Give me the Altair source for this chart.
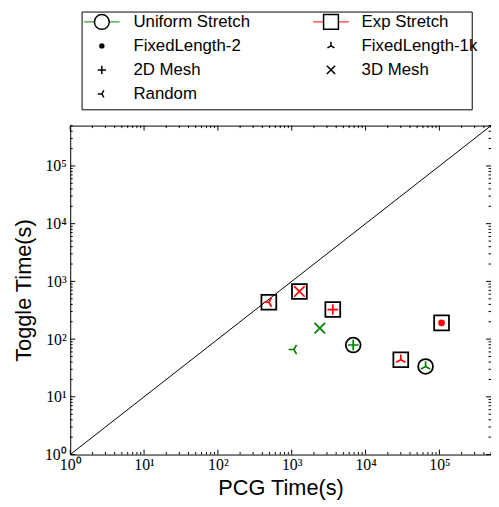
import altair as alt
import pandas as pd

# ---------------- data ----------------
exp_graph = ["Random", "3D Mesh", "2D Mesh", "FixedLength-2", "FixedLength-1k"]
exp_pcg = [490, 1270, 3600, 107000, 30000]
exp_toggle = [435, 670, 325, 191, 44]
exp_boxed = [True, True, True, True, True]

uni_graph = ["Random", "3D Mesh", "2D Mesh", "FixedLength-1k"]
uni_pcg = [1070, 2400, 6800, 65000]
uni_toggle = [66, 155, 79, 33.6]
uni_circled = [False, False, True, True]

series_names = ["Uniform Stretch", "Exp Stretch"]
series_colors = ["#008000", "#ff0000"]
legend_labels = ["Uniform Stretch", "FixedLength-2", "2D Mesh", "Random",
                 "Exp Stretch", "FixedLength-1k", "3D Mesh"]

x_major = [1, 10, 100, 1000, 10000, 100000]
y_major = [1, 10, 100, 1000, 10000, 100000]
axis_max = 500000

# ---------------- styling ----------------
W, H = 426, 333
PATHS = {
    "2D Mesh": "M-1,0H1M0,-1V1",
    "3D Mesh": "M-1,-1L1,1M-1,1L1,-1",
    "FixedLength-1k": "M0,0V-1M0,0L-0.866,0.5M0,0L0.866,0.5",
    "Random": "M0,0H-1M0,0L0.5,-0.866M0,0L0.5,0.866",
}
line_graphs = list(PATHS.keys())

pts = pd.concat([
    pd.DataFrame({"pcg": exp_pcg, "toggle": exp_toggle, "graph": exp_graph,
                  "series": "Exp Stretch", "outlined": exp_boxed}),
    pd.DataFrame({"pcg": uni_pcg, "toggle": uni_toggle, "graph": uni_graph,
                  "series": "Uniform Stretch", "outlined": uni_circled}),
], ignore_index=True)
pts["outline"] = pts["series"].map({"Uniform Stretch": "circle", "Exp Stretch": "square"})

XS = alt.Scale(type="log", domain=[1, axis_max], nice=False)
YS = alt.Scale(type="log", domain=[1, axis_max], nice=False)
sup = "['\u2070','\u00b9','\u00b2','\u00b3','\u2074','\u2075','\u2076']"
LBL = "'10' + " + sup + "[round(log(datum.value)/LN10)]"
XA = alt.Axis(values=x_major, labelExpr=LBL, title="PCG Time(s)", labelPadding=2,
              titlePadding=5)
YA = alt.Axis(values=y_major, labelExpr=LBL, title="Toggle Time(s)", labelPadding=4,
              labelAlign="right", labelBaseline="middle", titlePadding=9)
COL = alt.Scale(domain=series_names, range=series_colors)


def X(f):
    return alt.X(f, scale=XS, axis=XA)


def Y(f):
    return alt.Y(f, scale=YS, axis=YA)


diag = alt.Chart(pd.DataFrame({"a": [1, axis_max]})).mark_line(
    color="black", strokeWidth=1).encode(x=X("a:Q"), y=Y("a:Q"))

inner = alt.Chart(pts[pts["graph"].isin(line_graphs)]).mark_point(
    filled=False, strokeWidth=1.7, size=115, opacity=1).encode(
    x=X("pcg:Q"), y=Y("toggle:Q"),
    shape=alt.Shape("graph:N", scale=alt.Scale(domain=line_graphs,
                    range=[PATHS[g] for g in line_graphs]), legend=None),
    color=alt.Color("series:N", scale=COL, legend=None))

dots = alt.Chart(pts[pts["graph"] == "FixedLength-2"]).mark_circle(
    size=45, opacity=1).encode(
    x=X("pcg:Q"), y=Y("toggle:Q"),
    color=alt.Color("series:N", scale=COL, legend=None))

outl = alt.Chart(pts[pts["outlined"]]).mark_point(
    filled=False, stroke="black", strokeWidth=1.8, size=225, opacity=1).encode(
    x=X("pcg:Q"), y=Y("toggle:Q"),
    shape=alt.Shape("outline:N", scale=None))

# inward ticks on all four sides
minor = [m * 10 ** k for k in range(0, 6) for m in range(2, 10) if m * 10 ** k <= axis_max]


def xticks(vals, ln, top):
    if top:
        yy = dict(y=alt.value(0), y2=alt.value(ln))
    else:
        yy = dict(y=alt.value(H), y2=alt.value(H - ln))
    return alt.Chart(pd.DataFrame({"v": vals})).mark_rule(
        color="black", strokeWidth=1).encode(x=X("v:Q"), **yy)


def yticks(vals, ln, right):
    if right:
        xx = dict(x=alt.value(W), x2=alt.value(W - ln))
    else:
        xx = dict(x=alt.value(0), x2=alt.value(ln))
    return alt.Chart(pd.DataFrame({"v": vals})).mark_rule(
        color="black", strokeWidth=1).encode(y=Y("v:Q"), **xx)


ticks = [xticks(x_major, 5, False), xticks(minor, 2.5, False),
         xticks(x_major, 5, True), xticks(minor, 2.5, True),
         yticks(y_major, 5, False), yticks(minor, 2.5, False),
         yticks(y_major, 5, True), yticks(minor, 2.5, True)]

# ---------------- legend (drawn above the plot area) ----------------
leg = pd.DataFrame({"label": legend_labels})
leg["col"] = [i // 4 for i in range(len(leg))]
leg["row"] = [i % 4 for i in range(len(leg))]
leg["sx"] = 32 + leg["col"] * 232
leg["tx"] = 64 + leg["col"] * 231
leg["ly"] = -105 + leg["row"] * 24.3
leg["x1"] = leg["sx"] - 18
leg["x2"] = leg["sx"] + 18
leg["series"] = leg["label"]
leg["outline"] = leg["label"].map({"Uniform Stretch": "circle", "Exp Stretch": "square"})
leg["path"] = leg["label"].map(PATHS)

LX = lambda f: alt.X(f, scale=None, axis=None)
LY = lambda f: alt.Y(f, scale=None, axis=None)

box = alt.Chart(pd.DataFrame({"k": [0]})).mark_rect(
    fill="white", stroke="black", strokeWidth=1).encode(
    x=alt.value(12), x2=alt.value(407), y=alt.value(-115), y2=alt.value(-16))

ser = leg[leg["outline"].notna()]
leg_lines = alt.Chart(ser).mark_rule(strokeWidth=1).encode(
    x=LX("x1:Q"), x2="x2:Q", y=LY("ly:Q"),
    color=alt.Color("series:N", scale=COL, legend=None))
leg_outl = alt.Chart(ser).mark_point(
    filled=True, fill="white", stroke="black", strokeWidth=1.5, size=225, opacity=1).encode(
    x=LX("sx:Q"), y=LY("ly:Q"), shape=alt.Shape("outline:N", scale=None))
leg_inner = alt.Chart(leg[leg["path"].notna()]).mark_point(
    filled=False, stroke="black", strokeWidth=1.5, size=70, opacity=1).encode(
    x=LX("sx:Q"), y=LY("ly:Q"), shape=alt.Shape("path:N", scale=None))
leg_dot = alt.Chart(leg[leg["label"] == "FixedLength-2"]).mark_circle(
    color="black", size=30, opacity=1).encode(x=LX("sx:Q"), y=LY("ly:Q"))
leg_text = alt.Chart(leg).mark_text(
    align="left", baseline="middle", font="Liberation Sans", fontSize=17,
    color="black").encode(x=LX("tx:Q"), y=LY("ly:Q"), text="label:N")

chart = alt.layer(
    diag, *ticks, outl, inner, dots,
    box, leg_lines, leg_outl, leg_inner, leg_dot, leg_text,
).properties(
    width=W, height=H,
    autosize=alt.AutoSizeParams(type="none"),
    padding={"left": 63, "top": 116, "right": 0, "bottom": 48},
).configure_view(
    stroke="black", strokeWidth=1
).configure_axis(
    grid=False, domain=False, ticks=False, labelColor="black", titleColor="black",
    labelFont="Liberation Serif", labelFontSize=16, titleFont="Liberation Sans",
    titleFontSize=22, titleFontWeight="normal", labelFlush=False, labelOverlap=False,
)

chart.save("out.html", embed_options={"renderer": "svg", "actions": False})
